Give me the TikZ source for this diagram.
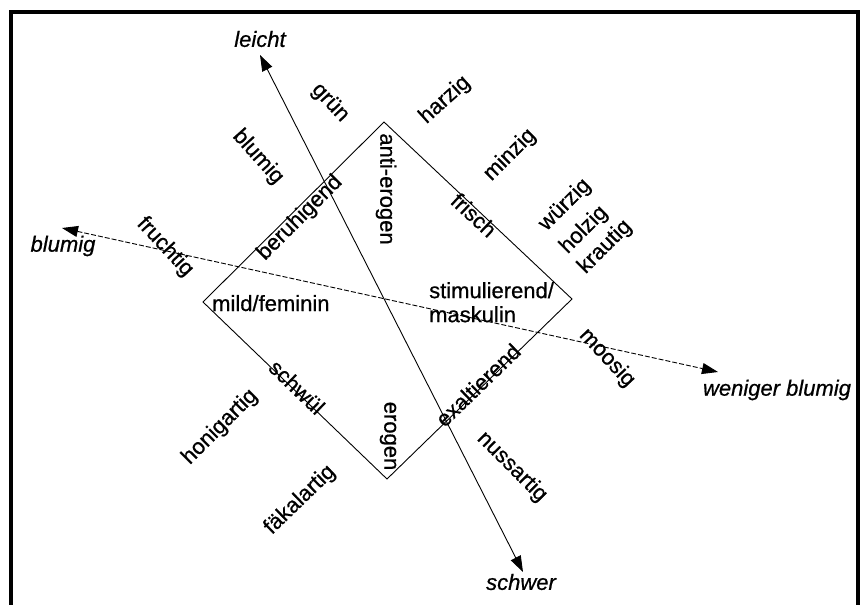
\documentclass[tikz,border=0pt]{standalone}
\usepackage{fontspec}
\setmainfont{Liberation Sans}[FakeBold=0.7]
\usetikzlibrary{arrows.meta}
\begin{document}
\begin{tikzpicture}[x=1pt,y=-1pt,
  lbl/.style={font=\fontsize{22}{24}\selectfont, inner sep=0pt},
  axl/.style={font=\fontsize{22}{24}\selectfont\itshape, inner sep=0pt},
  diam/.style={line width=0.9pt, line join=miter},
  axisline/.style={line width=0.9pt, {Triangle[length=16pt,width=11pt]}-{Triangle[length=16pt,width=11pt]}},
  framel/.style={line width=4pt, line join=miter}]
\useasboundingbox (0,0) rectangle (860,605);
\fill[white] (0,0) rectangle (860,605);
% frame
\draw[framel] (10.5,607) -- (10.5,12) -- (858,12) -- (858,607);
% diamond
\coordinate (T) at (384,122);
\coordinate (R) at (572,299);
\coordinate (B) at (387,479);
\coordinate (Lf) at (203,302);
\draw[diam] (T) -- (R) -- (B) -- (Lf) -- cycle;
% axes
\coordinate (up) at (260,55);
\coordinate (down) at (523,572);
\coordinate (west) at (62,228);
\coordinate (east) at (718,372);
\draw[axisline] (down) -- (up);
\draw[axisline, dash pattern=on 5pt off 2pt] (west) -- (east);
% axis labels
\node[axl] (leicht) at (260,39) {leicht};
\node[axl] (blumigA) at (63,246) {blumig};
\node[axl] (weniger) at (777,390) {weniger blumig};
\node[axl] (schwer) at (521,582) {schwer};
% diamond labels
\node[lbl, rotate=-90] (antierogen) at (386,189) {anti-erogen};
\node[lbl, rotate=-90] (erogen) at (388,436) {erogen};
\node[lbl, rotate=45] (beruhigend) at (300,218) {beruhigend};
\node[lbl, rotate=-43] (frisch) at (474,215) {frisch};
\node[lbl, rotate=-44] (schwuel) at (297,387) {schwül};
\node[lbl, rotate=44] (exalt) at (478,385) {exaltierend};
\node[lbl, anchor=base west] (mild) at (212,311) {mild/feminin};
\node[lbl, anchor=north west, align=left] (stim) at (429,282) {stimulierend/\\maskulin};
% outer labels
\node[lbl, rotate=-47] (gruen) at (330,103) {grün};
\node[lbl, rotate=-48] (blumigB) at (258,157) {blumig};
\node[lbl, rotate=42] (harzig) at (445,100) {harzig};
\node[lbl, rotate=45] (minzig) at (510,155) {minzig};
\node[lbl, rotate=45] (wuerzig) at (565,205) {würzig};
\node[lbl, rotate=45] (holzig) at (584,230) {holzig};
\node[lbl, rotate=45] (krautig) at (605,247) {krautig};
\node[lbl, rotate=-47] (fruchtig) at (165,247) {fruchtig};
\node[lbl, rotate=-47] (moosig) at (607,358) {moosig};
\node[lbl, rotate=45] (honig) at (220,427) {honigartig};
\node[lbl, rotate=44] (faekal) at (300,500) {fäkalartig};
\node[lbl, rotate=-45] (nuss) at (512,467) {nussartig};
\end{tikzpicture}
\end{document}
